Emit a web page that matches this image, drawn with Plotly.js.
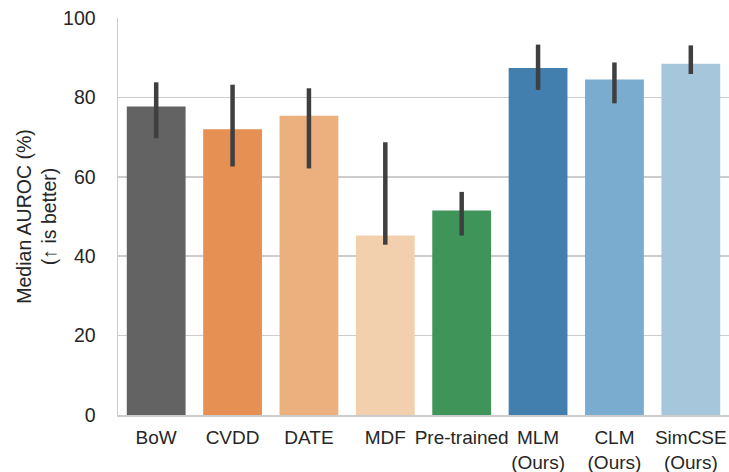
<!DOCTYPE html>
<html>
<head>
<meta charset="utf-8">
<script src="https://cdn.plot.ly/plotly-3.0.1.min.js"></script>
<style>html,body{margin:0;padding:0;background:#fff;}#chart{width:729px;height:472px;}</style>
</head>
<body>
<div id="chart"></div>
<script>
const categories = ["BoW", "CVDD", "DATE", "MDF", "Pre-trained", "MLM<br>(Ours)", "CLM<br>(Ours)", "SimCSE<br>(Ours)"];
const medianAuroc = [77.7, 72.0, 75.4, 45.2, 51.5, 87.4, 84.5, 88.5];
const ciUpper = [83.8, 83.2, 82.3, 68.7, 56.2, 93.3, 88.8, 93.1];
const ciLower = [69.7, 62.6, 62.1, 42.9, 45.2, 81.9, 78.5, 85.9];
const barColors = ["#636363", "#e69153", "#ecb07f", "#f2d0ae", "#3f9459", "#427fae", "#79acce", "#a6c6dc"];

const errPlus = medianAuroc.map((v, i) => ciUpper[i] - v);
const errMinus = medianAuroc.map((v, i) => v - ciLower[i]);

const trace = {
  type: "bar",
  x: categories,
  y: medianAuroc,
  marker: {color: barColors, line: {width: 0}},
  error_y: {type: "data", symmetric: false, array: errPlus, arrayminus: errMinus,
            color: "#3f3f3f", thickness: 4.5, width: 0},
  hoverinfo: "none"
};

const font = {family: "Liberation Sans, Arial, sans-serif", size: 19.5, color: "#262626"};
const xfont = {family: "Liberation Sans, Arial, sans-serif", size: 19, color: "#262626"};
const layout = {
  width: 729, height: 472,
  margin: {l: 118, r: 0, t: 18, b: 57},
  paper_bgcolor: "#fff", plot_bgcolor: "#fff",
  font: font,
  bargap: 0.23,
  showlegend: false,
  xaxis: {
    type: "category", range: [-0.5, 7.5], tickangle: 0,
    showgrid: false, showline: true, linecolor: "#cccccc", linewidth: 1.5,
    ticks: "", ticklabelstandoff: 5, tickfont: xfont, zeroline: false
  },
  yaxis: {
    range: [0, 100], tickvals: [0, 20, 40, 60, 80, 100],
    showgrid: true, gridcolor: "#cccccc", gridwidth: 1.5,
    showline: true, linecolor: "#cccccc", linewidth: 1.5,
    zeroline: false, ticks: "", ticklabelstandoff: 17, tickfont: font,
    title: {text: "Median AUROC (%)<br>(↑ is better)", font: font, standoff: 1}
  }
};

Plotly.newPlot("chart", [trace], layout, {displayModeBar: false, staticPlot: true});
</script>
</body>
</html>
